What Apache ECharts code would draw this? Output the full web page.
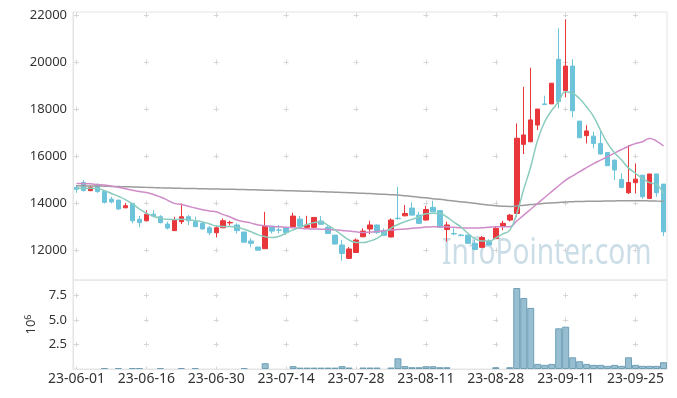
<!DOCTYPE html>
<html>
<head>
<meta charset="utf-8">
<script src="https://cdn.jsdelivr.net/npm/echarts@6/dist/echarts.min.js"></script>
<style>
html, body { margin: 0; padding: 0; background: #fff; }
#chart { width: 677px; height: 398px; }
</style>
</head>
<body>
<div id="chart"></div>
<script>
const dates = [
  '23-06-01','23-06-02','23-06-05','23-06-07','23-06-08','23-06-09','23-06-12','23-06-13','23-06-14','23-06-15',
  '23-06-16','23-06-19','23-06-20','23-06-21','23-06-22','23-06-23','23-06-26','23-06-27','23-06-28','23-06-29',
  '23-06-30','23-07-03','23-07-04','23-07-05','23-07-06','23-07-07','23-07-10','23-07-11','23-07-12','23-07-13',
  '23-07-14','23-07-17','23-07-18','23-07-19','23-07-20','23-07-21','23-07-24','23-07-25','23-07-26','23-07-27',
  '23-07-28','23-07-31','23-08-01','23-08-02','23-08-03','23-08-04','23-08-07','23-08-08','23-08-09','23-08-10',
  '23-08-11','23-08-14','23-08-16','23-08-17','23-08-18','23-08-21','23-08-22','23-08-23','23-08-24','23-08-25',
  '23-08-28','23-08-29','23-08-30','23-08-31','23-09-01','23-09-04','23-09-05','23-09-06','23-09-07','23-09-08',
  '23-09-11','23-09-12','23-09-13','23-09-14','23-09-15','23-09-18','23-09-19','23-09-20','23-09-21','23-09-22',
  '23-09-25','23-09-26','23-09-27','23-10-04','23-10-05'
];

// [open, close, low, high]
const candles = [
  [14680,14600,14450,14780],[14890,14550,14500,14990],[14540,14680,14520,14780],[14750,14500,14450,14850],
  [14520,14040,14000,14520],[14180,14060,14000,14280],[14140,13760,13720,14140],[13810,13900,13800,14020],
  [14000,13260,13150,14000],[13320,13180,12980,13460],[13260,13540,13230,13710],[13540,13460,13400,13710],
  [13430,13180,13150,13500],[13120,12950,12890,13220],[12840,13290,12830,13430],[13220,13430,13120,14000],
  [13430,13260,13080,13500],[13220,13010,12990,13430],[13150,12910,12900,13220],[12960,12750,12650,13040],
  [12750,12960,12550,13040],[12960,13260,12950,13360],[13170,13190,13060,13260],[13080,12840,12720,13150],
  [12780,12350,12330,12790],[12400,12300,12130,12510],[12140,12010,11990,12170],[12070,13030,12070,13640],
  [13030,12820,12720,13030],[12870,12860,12720,13080],[12950,12760,12650,12960],[13010,13460,12990,13600],
  [13330,13030,12940,13470],[12980,13080,12960,13470],[12980,13400,12960,13400],[13250,13110,13100,13460],
  [12980,12720,12700,13080],[12650,12270,12240,12650],[12230,11870,11560,12440],[11660,12060,11640,12140],
  [11910,12440,11900,12510],[12580,12820,12560,12940],[12910,13080,12690,13260],[13080,12760,12700,13100],
  [12840,12640,12620,12940],[12570,13290,12550,13360],[13370,13350,13300,14700],[13470,13570,13450,13930],
  [13800,13500,13480,14040],[13500,13150,13120,13640],[13290,13740,13270,13890],[13830,13640,13630,14110],
  [13690,12980,12960,13700],[12890,13080,12370,13220],[12720,12700,12650,12940],[12650,12630,12600,12700],
  [12650,12300,12280,12660],[12300,12040,12030,12440],[12130,12550,12100,12610],[12370,12230,12200,12470],
  [12500,12940,12480,13010],[13030,13150,12860,13260],[13290,13500,13230,13550],[13570,16770,13430,17400],
  [16510,16910,16100,18960],[16620,17550,16600,19770],[17330,18010,17120,18010],[18230,18200,18200,18580],
  [18230,19110,18230,19110],[20130,18330,18040,21450],[18790,19840,18510,21830],[19840,17940,17660,20130],
  [17500,16790,16790,17500],[16880,17080,16550,17320],[16860,16550,16340,17050],[16550,16100,16080,17120],
  [16160,15600,15590,16160],[15840,15420,14990,15850],[15020,14680,14640,15280],[14450,14890,14400,16480],
  [14880,15030,14420,15700],[15200,14280,14200,15200],[14210,15250,14180,15250],[15250,14450,14280,15250],
  [14820,12790,12610,14820]
];

const ma5 = [
  14640,14640,14640,14630,14540,14420,14300,14160,13980,13760,
  13580,13450,13370,13320,13310,13320,13300,13260,13210,13130,
  13040,13020,13020,12980,12900,12790,12660,12580,12550,12600,
  12740,12870,12980,13100,13180,13220,13060,12870,12650,12440,
  12340,12330,12400,12510,12720,12950,13100,13220,13320,13420,
  13560,13580,13570,13420,13200,13000,12730,12500,12400,12400,
  12530,12700,12860,13570,14600,15560,16700,17470,17950,18330,
  18750,18680,18450,18100,17690,17100,16550,16150,15840,15500,
  15280,15050,14880,14800,14420
];

const ma20 = [
  14850,14840,14830,14800,14780,14740,14680,14620,14560,14500,
  14460,14380,14270,14140,14000,13950,13880,13800,13730,13680,
  13640,13520,13420,13290,13220,13160,13080,13050,13020,13000,
  12980,12960,12940,12920,12910,12900,12890,12870,12850,12820,
  12790,12760,12780,12800,12840,12870,12890,12910,12940,12960,
  12990,13000,13010,13000,12980,12960,12950,12950,12960,12980,
  13000,13005,13010,13250,13500,13750,14000,14250,14500,14750,
  14990,15170,15350,15520,15690,15840,15990,16140,16290,16430,
  16550,16620,16760,16650,16440
];

const ma120 = [
  14750,14745,14740,14735,14730,14720,14712,14705,14698,14690,
  14680,14670,14662,14655,14648,14640,14634,14628,14622,14616,
  14610,14605,14600,14592,14585,14578,14570,14562,14555,14547,
  14540,14532,14524,14515,14505,14495,14485,14474,14463,14452,
  14440,14428,14415,14400,14385,14370,14353,14325,14295,14265,
  14235,14200,14170,14135,14100,14070,14040,14000,13960,13930,
  13900,13880,13870,13890,13920,13950,13975,14000,14020,14040,
  14060,14070,14080,14085,14090,14095,14100,14105,14110,14110,
  14110,14110,14105,14100,14095
];

const volumes = [
  0,0,0,0,100000,0,100000,0,100000,100000,
  0,0,100000,0,0,100000,0,100000,0,0,
  0,0,0,0,100000,0,0,590000,0,0,
  0,290000,140000,140000,140000,140000,140000,140000,290000,150000,
  0,150000,150000,150000,0,150000,1090000,290000,180000,180000,
  280000,280000,180000,180000,0,0,0,0,0,0,
  180000,0,180000,8240000,7230000,6220000,520000,420000,520000,4140000,
  4310000,1190000,790000,520000,420000,420000,320000,420000,320000,1190000,
  420000,320000,320000,320000,690000
];

const chart = echarts.init(document.getElementById('chart'), null, { renderer: 'canvas' });

const font = '"Noto Sans", sans-serif';
const borderGray = '#e4e4e4';
const crossGray = '#d6d6d6';

const option = {
  animation: false,
  textStyle: { fontFamily: font },
  graphic: [{
    type: 'text',
    left: 442,
    top: 236,
    z: 0,
    scaleX: 0.78,
    style: {
      text: 'InfoPointer.com',
      font: '36px "Noto Sans"',
      fill: 'rgba(160,195,212,0.55)'
    }
  }],
  grid: [
    { left: 73, right: 10, top: 12, height: 268, show: true, borderColor: borderGray, borderWidth: 1 },
    { left: 73, right: 10, top: 280, height: 89, show: true, borderColor: borderGray, borderWidth: 1 }
  ],
  xAxis: [
    {
      type: 'category', gridIndex: 0, data: dates,
      axisLine: { show: false }, axisTick: { show: false }, axisLabel: { show: false },
      splitLine: {
        show: true, interval: 9, alignWithLabel: true,
        lineStyle: { color: crossGray, type: [5, 42.02], dashOffset: 46.5 }
      }
    },
    {
      type: 'category', gridIndex: 1, data: dates,
      axisLine: { show: true, lineStyle: { color: borderGray } },
      axisTick: { show: false },
      axisLabel: { interval: 9, color: '#333', fontSize: 14, margin: 3, fontFamily: font },
      splitLine: {
        show: true, interval: 9, alignWithLabel: true,
        lineStyle: { color: crossGray, type: [5, 19.56], dashOffset: 11.76 }
      }
    }
  ],
  yAxis: [
    {
      type: 'value', gridIndex: 0, min: 10740, max: 22140, minInterval: 2000, maxInterval: 2000,
      axisLine: { show: true, lineStyle: { color: borderGray } },
      axisTick: { show: false },
      axisLabel: {
        color: '#333', fontSize: 13, margin: 6, showMinLabel: false, showMaxLabel: false, fontFamily: font,
        formatter: v => String(v)
      },
      splitLine: {
        show: true, showMinLine: false, showMaxLine: false,
        lineStyle: { color: crossGray, type: [5, 64.88], dashOffset: 68.88 }
      }
    },
    {
      type: 'value', gridIndex: 1, min: 0, max: 9060000, minInterval: 2500000, maxInterval: 2500000,
      name: '10{s|6}', nameLocation: 'middle', nameRotate: 90, nameGap: 32,
      nameTextStyle: {
        color: '#333', fontSize: 13, fontFamily: font,
        rich: { s: { fontSize: 9, verticalAlign: 'top', color: '#333', fontFamily: font, padding: [0, 0, 6, 0] } }
      },
      axisLine: { show: true, lineStyle: { color: borderGray } },
      axisTick: { show: false },
      axisLabel: {
        color: '#333', fontSize: 13, margin: 6, showMinLabel: false, showMaxLabel: false, fontFamily: font,
        formatter: v => (v / 1e6).toFixed(1)
      },
      splitLine: {
        show: true, showMinLine: false, showMaxLine: false,
        lineStyle: { color: crossGray, type: [5, 64.88], dashOffset: 68.88 }
      }
    }
  ],
  series: [
    {
      type: 'candlestick', xAxisIndex: 0, yAxisIndex: 0, data: candles, barWidth: 5, z: 3,
      itemStyle: { color: '#e8363b', color0: '#6cc3da', borderColor: '#e8363b', borderColor0: '#6cc3da', borderWidth: 1 }
    },
    { type: 'line', xAxisIndex: 0, yAxisIndex: 0, data: ma120, symbol: 'none', smooth: true, z: 4,
      lineStyle: { color: '#9b9b9b', width: 1.5 } },
    { type: 'line', xAxisIndex: 0, yAxisIndex: 0, data: ma20, symbol: 'none', smooth: true, z: 4,
      lineStyle: { color: '#cf8cc8', width: 1.5 } },
    { type: 'line', xAxisIndex: 0, yAxisIndex: 0, data: ma5, symbol: 'none', smooth: true, z: 4,
      lineStyle: { color: '#8accbe', width: 1.5 } },
    {
      type: 'bar', xAxisIndex: 1, yAxisIndex: 1, barCategoryGap: '0%',
      data: volumes.map(v => (v === 0 ? '-' : v)),
      itemStyle: { color: '#97bfd1', borderColor: '#6e9fb6', borderWidth: 1 }
    }
  ]
};

chart.setOption(option);
window.addEventListener('resize', chart.resize);
</script>
</body>
</html>
